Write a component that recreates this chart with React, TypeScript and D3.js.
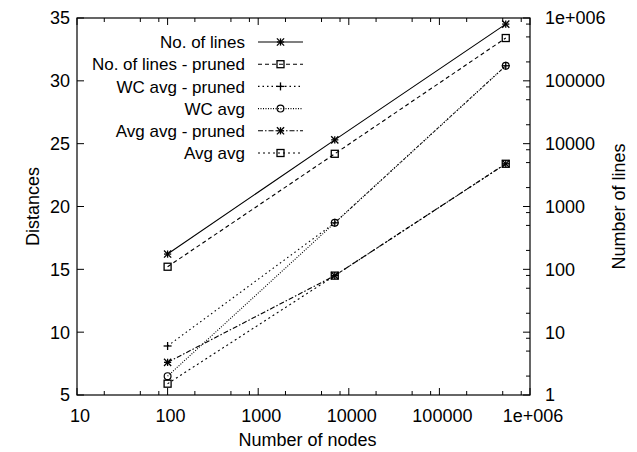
import React from "react";
import * as d3 from "d3";

const nodes = [100, 7000, 540000];
const noLines = [175, 11500, 800000];
const noLinesPruned = [110, 6900, 480000];
const wcAvgPruned = [8.9, 18.7, 31.2];
const wcAvg = [6.5, 18.7, 31.2];
const avgAvgPruned = [7.6, 14.5, 23.4];
const avgAvg = [5.9, 14.5, 23.4];

const xTickValues = [10, 100, 1000, 10000, 100000, 1000000];
const xTickLabels = ["10", "100", "1000", "10000", "100000", "1e+006"];
const yLeftTicks = [5, 10, 15, 20, 25, 30, 35];
const yRightTicks = [1, 10, 100, 1000, 10000, 100000, 1000000];
const yRightLabels = ["1", "10", "100", "1000", "10000", "100000", "1e+006"];
const minorMults = [2, 5, 8];

type Marker = "asterisk" | "square" | "plus" | "circle";
interface Series {
  name: string;
  values: number[];
  axis: "left" | "right";
  dash: string;
  marker: Marker;
}

const series: Series[] = [
  { name: "No. of lines", values: noLines, axis: "right", dash: "none", marker: "asterisk" },
  { name: "No. of lines - pruned", values: noLinesPruned, axis: "right", dash: "4,3", marker: "square" },
  { name: "WC avg - pruned", values: wcAvgPruned, axis: "left", dash: "1.5,3", marker: "plus" },
  { name: "WC avg", values: wcAvg, axis: "left", dash: "1,1.5", marker: "circle" },
  { name: "Avg avg - pruned", values: avgAvgPruned, axis: "left", dash: "5,2,1.5,2", marker: "asterisk" },
  { name: "Avg avg", values: avgAvg, axis: "left", dash: "2,3", marker: "square" },
];

const L = 77, R = 530, T = 18, B = 395;
const FONT = "'Liberation Sans', Arial, Helvetica, sans-serif";
const FS = 18;
const LEGFS = 17;

function MarkerShape({ type, x, y }: { type: Marker; x: number; y: number }) {
  const s = 3.6;
  switch (type) {
    case "asterisk":
      return (
        <g stroke="#000" strokeWidth={1.3}>
          <line x1={x - s} x2={x + s} y1={y} y2={y} />
          <line x1={x} x2={x} y1={y - s} y2={y + s} />
          <line x1={x - s} x2={x + s} y1={y - s} y2={y + s} />
          <line x1={x - s} x2={x + s} y1={y + s} y2={y - s} />
        </g>
      );
    case "plus":
      return (
        <g stroke="#000" strokeWidth={1.3}>
          <line x1={x - 4} x2={x + 4} y1={y} y2={y} />
          <line x1={x} x2={x} y1={y - 4} y2={y + 4} />
        </g>
      );
    case "square":
      return <rect x={x - 3.5} y={y - 3.5} width={7} height={7} fill="none" stroke="#000" strokeWidth={1.3} />;
    case "circle":
      return <circle cx={x} cy={y} r={3.4} fill="none" stroke="#000" strokeWidth={1.2} />;
  }
}

export default function App() {
  const x = d3.scaleLog().domain([10, 1e6]).range([L, R]);
  const yL = d3.scaleLinear().domain([5, 35]).range([B, T]);
  const yR = d3.scaleLog().domain([1, 1e6]).range([B, T]);

  const xMinor: number[] = [];
  for (let d = 10; d < 1e6; d *= 10) minorMults.forEach((m) => xMinor.push(d * m));
  const yMinor: number[] = [];
  for (let d = 1; d < 1e6; d *= 10) minorMults.forEach((m) => yMinor.push(d * m));

  const legendX1 = 258, legendX2 = 303, legendTextX = 245;
  const legendY0 = 42, legendDy = 22.2;

  return (
    <svg width={637} height={452} style={{ position: "absolute", left: 0, top: 0, background: "#fff" }} fontFamily={FONT} fontSize={FS}>
      <rect width={637} height={452} fill="#fff" />
      {/* frame */}
      <rect x={L} y={T} width={R - L} height={B - T} fill="none" stroke="#000" strokeWidth={1.2} />

      {/* x ticks */}
      {xTickValues.map((v, i) => (
        <g key={"xt" + i}>
          <line x1={x(v)} x2={x(v)} y1={B} y2={B - 7} stroke="#000" />
          <line x1={x(v)} x2={x(v)} y1={T} y2={T + 7} stroke="#000" />
          <text x={x(v) + 3} y={422} textAnchor="middle">{xTickLabels[i]}</text>
        </g>
      ))}
      {xMinor.map((v, i) => (
        <g key={"xm" + i}>
          <line x1={x(v)} x2={x(v)} y1={B} y2={B - 4} stroke="#000" />
          <line x1={x(v)} x2={x(v)} y1={T} y2={T + 4} stroke="#000" />
        </g>
      ))}

      {/* left y ticks */}
      {yLeftTicks.map((v, i) => (
        <g key={"yl" + i}>
          <line x1={L} x2={L + 7} y1={yL(v)} y2={yL(v)} stroke="#000" />
          <text x={70} y={yL(v)} dy="0.36em" textAnchor="end">{v}</text>
        </g>
      ))}

      {/* right y ticks */}
      {yRightTicks.map((v, i) => (
        <g key={"yr" + i}>
          <line x1={R} x2={R - 7} y1={yR(v)} y2={yR(v)} stroke="#000" />
          <text x={545} y={yR(v)} dy="0.36em" textAnchor="start">{yRightLabels[i]}</text>
        </g>
      ))}
      {yMinor.map((v, i) => (
        <line key={"yrm" + i} x1={R} x2={R - 4} y1={yR(v)} y2={yR(v)} stroke="#000" />
      ))}

      {/* axis titles */}
      <text transform={`translate(39,${(T + B) / 2}) rotate(-90)`} textAnchor="middle">Distances</text>
      <text transform={`translate(625,${(T + B) / 2}) rotate(-90)`} textAnchor="middle">Number of lines</text>
      <text x={(L + R) / 2 + 4} y={446} textAnchor="middle">Number of nodes</text>

      {/* series lines */}
      {series.map((s, si) => {
        const yS = s.axis === "left" ? yL : yR;
        const line = d3.line<number>().x((_, i) => x(nodes[i])).y((d) => yS(d));
        return (
          <path key={"l" + si} d={line(s.values) || ""} fill="none" stroke="#000" strokeWidth={1.1}
            strokeDasharray={s.dash === "none" ? undefined : s.dash} />
        );
      })}
      {/* markers */}
      {series.map((s, si) => {
        const yS = s.axis === "left" ? yL : yR;
        return (
          <g key={"m" + si}>
            {s.values.map((v, i) => (
              <MarkerShape key={i} type={s.marker} x={x(nodes[i])} y={yS(v)} />
            ))}
          </g>
        );
      })}

      {/* legend */}
      {series.map((s, si) => {
        const ly = legendY0 + si * legendDy;
        return (
          <g key={"lg" + si}>
            <text x={legendTextX} y={ly} dy="0.36em" textAnchor="end" fontSize={LEGFS}>{s.name}</text>
            <line x1={legendX1} x2={legendX2} y1={ly} y2={ly} stroke="#000" strokeWidth={1.1}
              strokeDasharray={s.dash === "none" ? undefined : s.dash} />
            <MarkerShape type={s.marker} x={(legendX1 + legendX2) / 2} y={ly} />
          </g>
        );
      })}
    </svg>
  );
}
